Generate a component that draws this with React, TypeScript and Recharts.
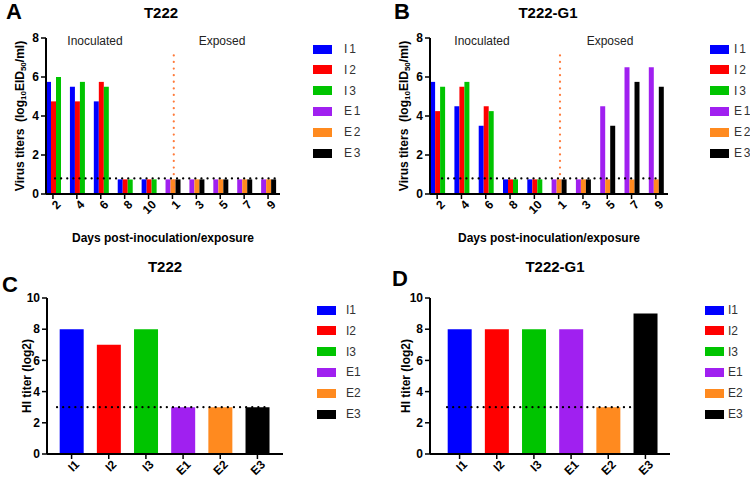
import React from "react"
import { BarChart, Bar, XAxis, YAxis, ReferenceLine, Cell } from "recharts"

// days on the x axis of panels A and B (inoculated first, then exposed)
const days = ["2", "4", "6", "8", "10", "1", "3", "5", "7", "9"]
const seriesNames = ["I 1", "I 2", "I 3", "E 1", "E 2", "E 3"]
const hiGroups = ["I1", "I2", "I3", "E1", "E2", "E3"]
const colors = ["#0000FF", "#FF0000", "#00C400", "#A020F0", "#FF8A1F", "#000000"]

// Panel A - T222 virus titers
const t222I1 = [5.75, 5.5, 4.75, 0.75, 0.75, null, null, null, null, null]
const t222I2 = [4.75, 4.75, 5.75, 0.75, 0.75, null, null, null, null, null]
const t222I3 = [6, 5.75, 5.5, 0.75, 0.75, null, null, null, null, null]
const t222E1 = [null, null, null, null, null, 0.75, 0.75, 0.75, 0.75, 0.75]
const t222E2 = [null, null, null, null, null, 0.75, 0.75, 0.75, 0.75, 0.75]
const t222E3 = [null, null, null, null, null, 0.75, 0.75, 0.75, 0.75, 0.75]

// Panel B - T222-G1 virus titers
const g1I1 = [5.75, 4.5, 3.5, 0.75, 0.75, null, null, null, null, null]
const g1I2 = [4.25, 5.5, 4.5, 0.75, 0.75, null, null, null, null, null]
const g1I3 = [5.5, 5.75, 4.25, 0.75, 0.75, null, null, null, null, null]
const g1E1 = [null, null, null, null, null, 0.75, 0.75, 4.5, 6.5, 6.5]
const g1E2 = [null, null, null, null, null, 0.75, 0.75, 0.75, 0.75, 0.75]
const g1E3 = [null, null, null, null, null, 0.75, 0.75, 3.5, 5.75, 5.5]

// Panels C/D - HI titers (log2)
const t222HI = [8, 7, 8, 3, 3, 3]
const g1HI = [8, 8, 8, 8, 3, 9]

const detectionTiter = 0.8
const detectionHI = 3

const font = "'Liberation Sans', Arial, Helvetica, sans-serif"

const buildDays = (series: (number | null)[][]) =>
  days.map((day, i) => {
    const row: any = { day }
    series.forEach((s, j) => {
      row["s" + j] = s[i]
    })
    return row
  })

const buildHI = (vals: number[]) => hiGroups.map((group, i) => ({ group, titer: vals[i] }))

const t222Days = buildDays([t222I1, t222I2, t222I3, t222E1, t222E2, t222E3])
const g1Days = buildDays([g1I1, g1I2, g1I3, g1E1, g1E2, g1E3])

const RotTick = (props: any) => {
  const { x, y, payload } = props
  return (
    <g transform={`translate(${x},${y})`}>
      <text
        x={0}
        y={0}
        dx={3}
        dy={9}
        textAnchor="end"
        transform="rotate(-45)"
        fontSize={12}
        fontWeight="bold"
        fill="#000"
        fontFamily={font}
      >
        {payload.value}
      </text>
    </g>
  )
}

const Txt = ({ x, y, size, bold, children, color, w = 120 }: any) => (
  <div
    style={{
      position: "absolute",
      left: x - w / 2,
      top: y - size / 2,
      width: w,
      textAlign: "center",
      fontSize: size,
      lineHeight: `${size}px`,
      fontWeight: bold ? "bold" : "normal",
      fontFamily: font,
      color: color || "#000",
      whiteSpace: "nowrap",
    }}
  >
    {children}
  </div>
)

const Legend6 = ({ swatchX, textX, top, names }: any) => (
  <>
    {names.map((n: string, i: number) => (
      <React.Fragment key={n}>
        <div
          style={{
            position: "absolute",
            left: swatchX,
            top: top + i * 20.8 - 4.5,
            width: 19,
            height: 9,
            background: colors[i],
          }}
        />
        <div
          style={{
            position: "absolute",
            left: textX,
            top: top + i * 20.8 - 7,
            fontSize: 12,
            lineHeight: "14px",
            wordSpacing: -1.5,
            fontFamily: font,
            color: "#333",
            whiteSpace: "nowrap",
          }}
        >
          {n}
        </div>
      </React.Fragment>
    ))}
  </>
)

const axisLine = { stroke: "#000", strokeWidth: 2 }
const tickLine = { stroke: "#000", strokeWidth: 1.5 }
const yTick = { fill: "#000", fontSize: 12, fontWeight: "bold", fontFamily: font }

// horizontal dotted limit line, trimmed at both ends (px)
const dottedShape = (trimLeft: number, trimRight: number) => (p: any) => (
  <line
    x1={p.x1 + trimLeft}
    x2={p.x2 - trimRight}
    y1={p.y1}
    y2={p.y2}
    stroke="#000"
    strokeWidth={2.2}
    strokeDasharray="0.1 6"
    strokeLinecap="round"
  />
)

const yLabel = (labelX: number, virus: boolean) => ({ viewBox }: any) => {
  const cx = viewBox.x + labelX
  const cy = viewBox.y + viewBox.height / 2
  return (
    <text
      x={cx}
      y={cy}
      transform={`rotate(-90 ${cx} ${cy})`}
      textAnchor="middle"
      dominantBaseline="central"
      fontSize={12}
      fontWeight="bold"
      fill="#000"
      fontFamily={font}
      style={{ whiteSpace: "pre" }}
    >
      {virus ? (
        <>
          <tspan>Virus titers  (log</tspan>
          <tspan fontSize={8} dy={3}>10</tspan>
          <tspan dy={-3}>EID</tspan>
          <tspan fontSize={8} dy={3}>50</tspan>
          <tspan dy={-3}>/ml)</tspan>
        </>
      ) : (
        "HI titer (log2)"
      )}
    </text>
  )
}

const VirusPanel = ({ left, data, yWidth, right, labelX, trim }: any) => (
  <div style={{ position: "absolute", left, top: 0 }}>
    <BarChart
      width={300}
      height={250}
      data={data}
      margin={{ top: 38, right, left: 0, bottom: 0 }}
      barCategoryGap="21%"
      barGap={0}
    >
      <XAxis
        dataKey="day"
        interval={0}
        height={56}
        tick={<RotTick />}
        tickSize={5}
        tickLine={tickLine}
        axisLine={axisLine}
        padding={{ left: -5, right: 0 }}
        label={{
          value: "Days post-inoculation/exposure",
          position: "insideBottom",
          offset: 8,
          fontSize: 12,
          fontWeight: "bold",
          fill: "#000",
          fontFamily: font,
        }}
      />
      <XAxis xAxisId="n" type="number" domain={[0, 10]} hide allowDataOverflow padding={{ left: -5, right: 0 }} />
      <YAxis
        domain={[0, 8]}
        ticks={[0, 2, 4, 6, 8]}
        width={yWidth}
        tickSize={5}
        tickLine={tickLine}
        axisLine={axisLine}
        tick={yTick}
        label={{ content: yLabel(labelX, true) }}
      />
      {seriesNames.map((n, j) => (
        <Bar
          key={n}
          dataKey={"s" + j}
          name={n}
          fill={colors[j]}
          stackId={"g" + (j % 3)}
          isAnimationActive={false}
        />
      ))}
      <ReferenceLine y={detectionTiter} shape={dottedShape(trim[0], trim[1])} />
      <ReferenceLine
        xAxisId="n"
        segment={[
          { x: 5, y: 0 },
          { x: 5, y: 7.4 },
        ]}
        stroke="#FF7A3A"
        strokeWidth={2.2}
        strokeDasharray="0.1 6.5"
        strokeLinecap="round"
      />
    </BarChart>
  </div>
)

const HIPanel = ({ left, vals, yWidth, right, pad, labelX, trim }: any) => (
  <div style={{ position: "absolute", left, top: 250 }}>
    <BarChart
      width={300}
      height={233}
      data={buildHI(vals)}
      margin={{ top: 48, right, left: 0, bottom: 0 }}
      barCategoryGap="18%"
    >
      <XAxis
        dataKey="group"
        interval={0}
        height={29}
        tick={<RotTick />}
        tickSize={5}
        tickLine={tickLine}
        axisLine={axisLine}
        padding={pad}
      />
      <YAxis
        domain={[0, 10]}
        ticks={[0, 2, 4, 6, 8, 10]}
        width={yWidth}
        tickSize={5}
        tickLine={tickLine}
        axisLine={axisLine}
        tick={yTick}
        label={{ content: yLabel(labelX, false) }}
      />
      <Bar dataKey="titer" isAnimationActive={false}>
        {hiGroups.map((g, i) => (
          <Cell key={g} fill={colors[i]} />
        ))}
      </Bar>
      <ReferenceLine y={detectionHI} shape={dottedShape(trim[0], trim[1])} />
    </BarChart>
  </div>
)

export default function App() {
  return (
    <div
      style={{
        position: "absolute",
        left: 0,
        top: 0,
        width: 750,
        height: 483,
        background: "#fff",
        overflow: "hidden",
      }}
    >
      {/* top row: virus titers */}
      <VirusPanel left={0} data={t222Days} yWidth={46} right={20} labelX={20} trim={[9, 2]} />
      <VirusPanel left={375} data={g1Days} yWidth={55} right={7} labelX={29} trim={[12, 10]} />

      {/* bottom row: HI titers */}
      <HIPanel left={0} vals={t222HI} yWidth={47} right={17} pad={{ left: 6, right: 7 }} labelX={27} trim={[10, 13]} />
      <HIPanel left={375} vals={g1HI} yWidth={55} right={5} pad={{ left: 11, right: 6 }} labelX={31} trim={[17, 12]} />

      <Txt x={14} y={12} size={22} bold w={30}>A</Txt>
      <Txt x={402} y={12} size={22} bold w={30}>B</Txt>
      <Txt x={10} y={285} size={22} bold w={30}>C</Txt>
      <Txt x={400} y={279} size={22} bold w={30}>D</Txt>

      <Txt x={161} y={12} size={15} bold>T222</Txt>
      <Txt x={548} y={12} size={15} bold>T222-G1</Txt>
      <Txt x={165} y={266} size={15} bold>T222</Txt>
      <Txt x={555} y={266} size={15} bold>T222-G1</Txt>

      <Txt x={95} y={41} size={12} color="#222">Inoculated</Txt>
      <Txt x={222} y={41} size={12} color="#222">Exposed</Txt>
      <Txt x={482} y={41} size={12} color="#222">Inoculated</Txt>
      <Txt x={610} y={41} size={12} color="#222">Exposed</Txt>

      <Legend6 swatchX={313} textX={344} top={49} names={seriesNames} />
      <Legend6 swatchX={710} textX={734} top={49} names={seriesNames} />
      <Legend6 swatchX={317} textX={346} top={310} names={hiGroups} />
      <Legend6 swatchX={705} textX={728} top={310} names={hiGroups} />
    </div>
  )
}
